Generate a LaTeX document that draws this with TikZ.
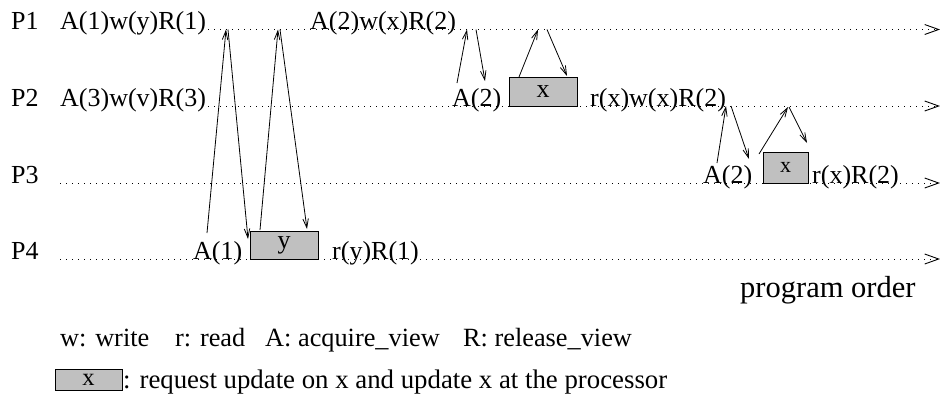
\documentclass[tikz,border=0pt]{standalone}
\usepackage{fontspec}
\setmainfont{Liberation Serif}
\usetikzlibrary{arrows.meta}
\definecolor{boxgray}{RGB}{192,192,192}
\tikzset{
  lbl/.style={anchor=base west,inner sep=0pt,font=\fontsize{26}{30}\selectfont},
  leg/.style={anchor=base west,inner sep=0pt,font=\fontsize{26.3}{30}\selectfont},
  tline/.style={dash pattern=on 1pt off 5pt,line width=0.9pt,
    -{Straight Barb[length=14pt,width=10pt,line width=0.9pt]}},
  msg/.style={line width=0.8pt,-{Straight Barb[length=9pt,width=5.5pt,line width=0.8pt]}},
  upd/.style={draw,fill=boxgray,line width=0.8pt,inner sep=0pt,font=\fontsize{26}{30}\selectfont}
}
\begin{document}
\begin{tikzpicture}[x=1pt,y=-1pt]
\useasboundingbox (0,0) rectangle (940,400);
% time lines
\coordinate (l1s) at (208,29.5); \coordinate (l1e) at (940,29.5);
\coordinate (l2s) at (208,106);  \coordinate (l2e) at (940,106);
\coordinate (l3s) at (60,183);   \coordinate (l3e) at (940,183);
\coordinate (l4s) at (60,259);   \coordinate (l4e) at (940,259);
\draw[tline] (l1s) -- (l1e);
\draw[tline] (l2s) -- (l2e);
\draw[tline] (l3s) -- (l3e);
\draw[tline] (l4s) -- (l4e);
% processor labels
\node[lbl] (P1) at (11,29.5) {P1};
\node[lbl] (P2) at (11,106) {P2};
\node[lbl] (P3) at (11,183) {P3};
\node[lbl] (P4) at (11,259) {P4};
% operations
\node[lbl] (t11) at (60,29.5) {A(1)w(y)R(1)};
\node[lbl] (t12) at (310,29.5) {A(2)w(x)R(2)};
\node[lbl] (t21) at (60,106) {A(3)w(v)R(3)};
\node[lbl] (t22) at (452,106) {A(2)};
\node[upd,minimum width=68pt,minimum height=29pt] (bx2) at (543,91.5) {x};
\node[lbl] (t23) at (590,106) {r(x)w(x)R(2)};
\node[lbl] (t31) at (703,183) {A(2)};
\node[upd,minimum width=45pt,minimum height=31pt,font=\fontsize{22}{26}\selectfont] (bx3) at (785.5,167.5) {x};
\node[lbl] (t32) at (812,183) {r(x)R(2)};
\node[lbl] (t41) at (193,259) {A(1)};
\node[upd,minimum width=68pt,minimum height=28pt] (bx4) at (284,245) {y};
\node[lbl] (t42) at (332,259) {r(y)R(1)};
% message arrows: P4 acquire
\coordinate (a1s) at (207,233); \coordinate (a1e) at (226,29.5);
\coordinate (a2s) at (228,29.5); \coordinate (a2e) at (248,239);
\coordinate (a3s) at (260,230); \coordinate (a3e) at (278,29.5);
\coordinate (a4s) at (280,29.5); \coordinate (a4e) at (307,229);
\draw[msg] (a1s) -- (a1e);
\draw[msg] (a2s) -- (a2e);
\draw[msg] (a3s) -- (a3e);
\draw[msg] (a4s) -- (a4e);
% P2 acquire
\coordinate (b1s) at (457,83); \coordinate (b1e) at (467,29.5);
\coordinate (b2s) at (476,29.5); \coordinate (b2e) at (485,81);
\coordinate (b3s) at (519,77); \coordinate (b3e) at (538,29.5);
\coordinate (b4s) at (547,29.5); \coordinate (b4e) at (567,76);
\draw[msg] (b1s) -- (b1e);
\draw[msg] (b2s) -- (b2e);
\draw[msg] (b3s) -- (b3e);
\draw[msg] (b4s) -- (b4e);
% P3 acquire
\coordinate (c1s) at (717,163); \coordinate (c1e) at (726,106);
\coordinate (c2s) at (731,106); \coordinate (c2e) at (749,159);
\coordinate (c3s) at (759,154); \coordinate (c3e) at (788,107);
\coordinate (c4s) at (789,107); \coordinate (c4e) at (807,143);
\draw[msg] (c1s) -- (c1e);
\draw[msg] (c2s) -- (c2e);
\draw[msg] (c3s) -- (c3e);
\draw[msg] (c4s) -- (c4e);
% program order
\node[anchor=base west,inner sep=0pt,font=\fontsize{30.5}{36}\selectfont] (po) at (740,297) {program order};
% legend
\node[leg] (g1) at (60,346) {w: write};
\node[leg] (g2) at (175,346) {r: read};
\node[leg] (g3) at (265,346) {A: acquire\_view};
\node[leg] (g4) at (463,346) {R: release\_view};
\node[upd,minimum width=67pt,minimum height=21pt,font=\fontsize{24.5}{28}\selectfont] (gb) at (88.5,379.5) {x};
\node[leg,font=\fontsize{26.8}{30}\selectfont] (g5) at (123,388) {: request update on x and update x at the processor};
\end{tikzpicture}
\end{document}
